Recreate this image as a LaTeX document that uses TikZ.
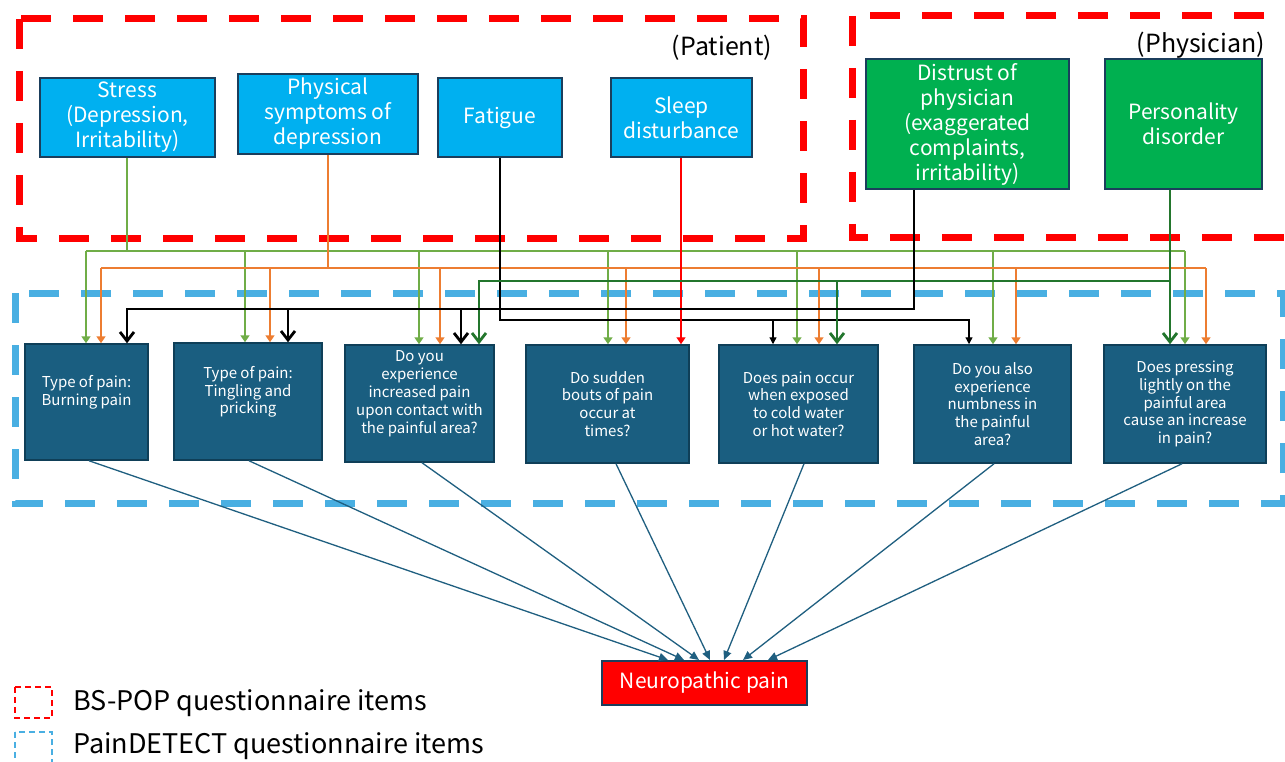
\documentclass[tikz,border=0pt]{standalone}
\usepackage{fontspec}
\setmainfont{Noto Sans CJK JP}
\usetikzlibrary{arrows.meta}
\definecolor{cyanfill}{HTML}{00B0F0}
\definecolor{greenfill}{HTML}{00B050}
\definecolor{boxedge}{HTML}{1B3E5C}
\definecolor{qfill}{HTML}{1A5E80}
\definecolor{qedge}{HTML}{0F3F58}
\definecolor{bluedash}{HTML}{49AFE2}
\definecolor{lgreen}{HTML}{70AD47}
\definecolor{orangec}{HTML}{ED7D31}
\definecolor{dgreen}{HTML}{23762D}
\definecolor{bconn}{HTML}{1F5F80}
\begin{document}
\begin{tikzpicture}[x=1pt,y=-1pt,
  topbox/.style={draw=boxedge, line width=2pt, fill=cyanfill, text=white, align=center,
    font=\fontsize{21}{25}\selectfont, inner sep=0pt},
  physbox/.style={topbox, fill=greenfill},
  qbox/.style={draw=qedge, line width=1.5pt, fill=qfill, text=white, align=center,
    font=\fontsize{15}{17.8}\selectfont, inner sep=0pt},
  redgroup/.style={draw=red, line width=7pt, dash pattern=on 30pt off 22pt},
  bluegroup/.style={draw=bluedash, line width=7pt, dash pattern=on 30pt off 22pt},
  gline/.style={draw=lgreen, line width=1.5pt},
  oline/.style={draw=orangec, line width=1.5pt},
  kthin/.style={draw=black, line width=1.3pt},
  rline/.style={draw=red, line width=1.4pt},
  kthick/.style={draw=black, line width=2.8pt},
  dgline/.style={draw=dgreen, line width=2.8pt},
  ftip/.style={-{Triangle[length=7pt,width=9pt]}},
  ktip/.style={-{Triangle[length=7pt,width=7pt]}},
  vtip/.style={-{Straight Barb[length=9pt,width=14pt]}},
  bline/.style={draw=bconn, line width=1.3pt, -{Triangle[length=9pt,width=8pt]}},
  grouplabel/.style={font=\fontsize{25}{29}\selectfont, inner sep=0pt},
  legendtext/.style={font=\fontsize{27}{30}\selectfont, anchor=west, inner sep=0pt}
]
\useasboundingbox (0,0) rectangle (1285,762);
\clip (0,0) rectangle (1285,762);
\fill[white] (0,0) rectangle (1285,762);

% group frames
\draw[redgroup] (19,19) rectangle (803,239);
\draw[redgroup] (852,16) rectangle (1330,238);
\draw[bluegroup] (15,293) rectangle (1283,503);
\node[grouplabel] (patlabel) at (722,48) {(Patient)};
\node[grouplabel] (phylabel) at (1201,45) {(Physician)};

% top boxes
\node[topbox, minimum width=175pt, minimum height=79pt] (stress) at (127.5,117.5) {Stress\\(Depression,\\Irritability)};
\node[topbox, minimum width=180pt, minimum height=80pt] (physical) at (328,114) {Physical\\symptoms of\\depression};
\node[topbox, minimum width=124pt, minimum height=79pt] (fatigue) at (500,117.5) {Fatigue};
\node[topbox, minimum width=141pt, minimum height=79pt] (sleep) at (681.5,117.5) {Sleep\\disturbance};
\node[physbox, minimum width=203pt, minimum height=130pt] (distrust) at (967.5,124) {Distrust of\\physician\\(exaggerated\\complaints,\\irritability)};
\node[physbox, minimum width=157pt, minimum height=130pt] (personality) at (1183.5,124) {Personality\\disorder};

% question boxes
\node[qbox, minimum width=123pt, minimum height=116pt] (b1) at (86.5,402) {Type of pain:\\Burning pain\\\strut};
\node[qbox, minimum width=148pt, minimum height=117pt] (b2) at (248,401.5) {Type of pain:\\Tingling and\\pricking\\\strut};
\node[qbox, minimum width=149pt, minimum height=117pt] (b3) at (419.5,403.5) {Do you\\experience\\increased pain\\upon contact with\\the painful area?\\\strut};
\node[qbox, minimum width=163pt, minimum height=118pt] (b4) at (607.5,404) {Do sudden\\bouts of pain\\occur at\\times?};
\node[qbox, minimum width=159pt, minimum height=118pt] (b5) at (798.5,404) {Does pain occur\\when exposed\\to cold water\\or hot water?};
\node[qbox, minimum width=157pt, minimum height=118pt] (b6) at (992.5,404) {Do you also\\experience\\numbness in\\the painful\\area?};
\node[qbox, minimum width=162pt, minimum height=118pt] (b7) at (1185,404) {Does pressing\\lightly on the\\painful area\\cause an increase\\in pain?};

% outcome
\node[draw=boxedge, line width=2pt, fill=red, text=white, font=\fontsize{21}{25}\selectfont,
  minimum width=205pt, minimum height=44pt, inner sep=0pt] (np) at (704.5,683) {Neuropathic pain};

% Stress (green)
\coordinate (s0) at ([xshift=-0.5pt]stress.south);
\coordinate (g1) at (86,251);
\coordinate (g2) at (245,251);
\coordinate (g3) at (419,251);
\coordinate (g4) at (608,251);
\coordinate (g5) at (797,251);
\coordinate (g6) at (993,251);
\coordinate (g7) at (1185,251);
\draw[gline] (s0) -- (s0 |- g1);
\draw[gline] (g1) -- (g7);
\foreach \i in {1,...,7} {\draw[gline, ftip] (g\i) -- (g\i |- b\i.north);}

% Physical symptoms (orange)
\coordinate (o1) at (101,268);
\coordinate (o2) at (270,268);
\coordinate (o3) at (440,268);
\coordinate (o4) at (626,268);
\coordinate (o5) at (819,268);
\coordinate (o6) at (1016,268);
\coordinate (o7) at (1206,268);
\draw[oline] (physical.south) -- (physical.south |- o1);
\draw[oline] (o1) -- (o7);
\foreach \i in {1,...,7} {\draw[oline, ftip] (o\i) -- (o\i |- b\i.north);}

% Fatigue (black thin)
\coordinate (f5) at (773,320);
\coordinate (f6) at (969,320);
\draw[kthin, ktip] (fatigue.south) |- (f6) -- (f6 |- b6.north);
\draw[kthin, ktip] (f5) -- (f5 |- b5.north);

% Sleep disturbance (red)
\coordinate (sl0) at ([xshift=-0.5pt]sleep.south);
\draw[rline, ftip] (sl0) -- (sl0 |- b4.north);

% Personality disorder (dark green thick)
\coordinate (p0) at ([xshift=-13.5pt]personality.south);
\coordinate (p3) at (479,281);
\coordinate (p5) at (837,281);
\draw[dgline, vtip] (p0) -- (p0 |- b7.north);
\draw[dgline, vtip] (p0 |- p3) -- (p3) -- (p3 |- b3.north);
\draw[dgline, vtip] (p5) -- (p5 |- b5.north);

% Distrust (black thick)
\coordinate (d0) at ([xshift=-53.5pt]distrust.south);
\coordinate (d1) at (127,309);
\coordinate (d2) at (288,309);
\coordinate (d3) at (461,309);
\draw[kthick, vtip] (d0) |- (d1) -- (d1 |- b1.north);
\draw[kthick, vtip] (d2) -- (d2 |- b2.north);
\draw[kthick, vtip] (d3) -- (d3 |- b3.north);

% to neuropathic pain
\draw[bline] ([xshift=2.5pt]b1.south) -- ([xshift=-36.5pt]np.north);
\draw[bline] ([xshift=1pt]b2.south) -- ([xshift=-20.5pt]np.north);
\draw[bline] ([xshift=2.5pt]b3.south) -- ([xshift=-5.5pt]np.north);
\draw[bline] ([xshift=8.5pt]b4.south) -- ([xshift=5.5pt]np.north);
\draw[bline] ([xshift=5.5pt]b5.south) -- ([xshift=19.5pt]np.north);
\draw[bline] ([xshift=1.5pt]b6.south) -- ([xshift=38.5pt]np.north);
\draw[bline] ([xshift=-3pt]b7.south) -- ([xshift=63.5pt]np.north);

% legend
\draw[red, line width=2pt, dash pattern=on 6pt off 4pt] (15,687) rectangle (52,718);
\node[legendtext] (leg1) at (73,703) {BS-POP questionnaire items};
\draw[bluedash, line width=2pt, dash pattern=on 6pt off 4pt] (15,732) rectangle (52,770);
\node[legendtext] (leg2) at (73,746) {PainDETECT questionnaire items};
\end{tikzpicture}
\end{document}
